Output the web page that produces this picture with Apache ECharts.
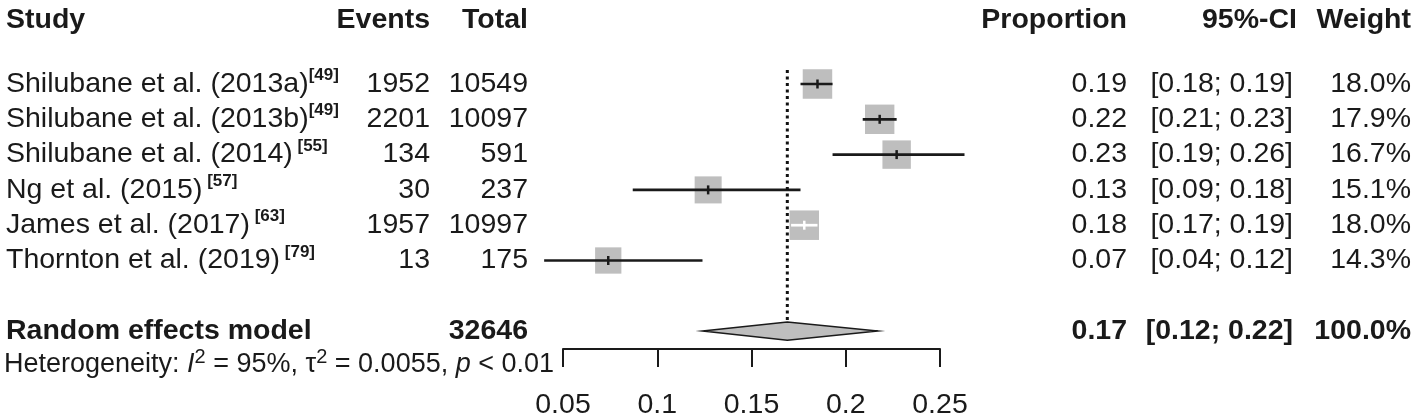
<!DOCTYPE html>
<html>
<head>
<meta charset="utf-8">
<style>
  html, body { margin: 0; padding: 0; background: #fff; }
  #chart { width: 1418px; height: 420px; }
</style>
<script src="https://cdn.jsdelivr.net/npm/echarts@6/dist/echarts.min.js"></script>
</head>
<body>
<div id="chart"></div>
<script>
// data
const studyNames = ['Shilubane et al. (2013a)', 'Shilubane et al. (2013b)', 'Shilubane et al. (2014)',
  'Ng et al. (2015)', 'James et al. (2017)', 'Thornton et al. (2019)'];
const studyRefs = ['[49]', '[49]', ' [55]', ' [57]', ' [63]', ' [79]'];
const events = [1952, 2201, 134, 30, 1957, 13];
const totals = [10549, 10097, 591, 237, 10997, 175];
const proportions = [0.185, 0.218, 0.227, 0.127, 0.178, 0.074];
const ciLower = [0.176, 0.209, 0.193, 0.087, 0.171, 0.040];
const ciUpper = [0.193, 0.227, 0.263, 0.176, 0.185, 0.124];
const propLabels = ['0.19', '0.22', '0.23', '0.13', '0.18', '0.07'];
const ciLabels = ['[0.18; 0.19]', '[0.21; 0.23]', '[0.19; 0.26]', '[0.09; 0.18]', '[0.17; 0.19]', '[0.04; 0.12]'];
const weights = [18.0, 17.9, 16.7, 15.1, 18.0, 14.3];

const pooledEst = 0.169;
const pooledLower = 0.124;
const pooledUpper = 0.217;
const pooledTotal = 32646;
const pooledLabels = ['0.17', '[0.12; 0.22]', '100.0%'];

const headers = ['Study', 'Events', 'Total', 'Proportion', '95%-CI', 'Weight'];
const xTicks = [0.05, 0.1, 0.15, 0.2, 0.25];
const tickLabels = ['0.05', '0.1', '0.15', '0.2', '0.25'];

// layout
const FONT = '"Liberation Sans", Arial, sans-serif';
const FS = 28.5;
const INK = '#1a1a1a';
const ROW0 = 84, STEP = 35.3;
const AXIS_Y = 349;
const HEADER_ROW = -1.82, SUMMARY_ROW = 7, HET_ROW = 7.95;
const Y_MIN = -ROW0 / STEP;
const SQUARE = 29.5;
const DIAMOND_H = 0.26;

const col = { study: 6, events: 430, total: 528, prop: 1127, ci: 1293, ciHead: 1297, weight: 1411 };

const chart = echarts.init(document.getElementById('chart'));

function text(x, y, str, align, extra) {
  return {
    type: 'text',
    x: x, y: y,
    style: Object.assign({
      text: str,
      fill: INK,
      fontFamily: FONT,
      fontSize: FS,
      align: align,
      verticalAlign: 'middle',
      lineHeight: 34
    }, extra || {})
  };
}

function renderHeader(params, api) {
  const y = api.coord([0, HEADER_ROW])[1];
  const b = { fontWeight: 'bold' };
  return { type: 'group', children: [
    text(col.study, y, headers[0], 'left', b),
    text(col.events, y, headers[1], 'right', b),
    text(col.total, y, headers[2], 'right', b),
    text(col.prop, y, headers[3], 'right', b),
    text(col.ciHead, y, headers[4], 'right', b),
    text(col.weight, y, headers[5], 'right', b)
  ]};
}

function renderRow(params, api) {
  const i = params.dataIndex;
  const y = api.coord([0, api.value(0)])[1];
  return { type: 'group', children: [
    text(col.study, y, studyNames[i] + '{sup|' + studyRefs[i] + '}', 'left', {
      rich: { sup: { fontFamily: FONT, fontSize: 17, fontWeight: 'bold', fill: INK, lineHeight: 25, verticalAlign: 'top' } }
    }),
    text(col.events, y, String(events[i]), 'right'),
    text(col.total, y, String(totals[i]), 'right'),
    text(col.prop, y, propLabels[i], 'right'),
    text(col.ci, y, ciLabels[i], 'right'),
    text(col.weight, y, weights[i].toFixed(1) + '%', 'right')
  ]};
}

function renderSummary(params, api) {
  const y = api.coord([0, SUMMARY_ROW])[1];
  const yh = api.coord([0, HET_ROW])[1];
  const b = { fontWeight: 'bold' };
  return { type: 'group', children: [
    text(col.study, y, 'Random effects model', 'left', b),
    text(col.total, y, String(pooledTotal), 'right', b),
    text(col.prop, y, pooledLabels[0], 'right', b),
    text(col.ci, y, pooledLabels[1], 'right', b),
    text(col.weight, y, pooledLabels[2], 'right', b),
    text(col.study - 2, yh, 'Heterogeneity: {it|I}{sup|2} = 95%, τ{sup|2} = 0.0055, {it|p} < 0.01', 'left', {
      fontSize: 27,
      rich: {
        it: { fontFamily: FONT, fontSize: 27, fontStyle: 'italic', fill: INK },
        sup: { fontFamily: FONT, fontSize: 20, fill: INK, lineHeight: 6, verticalAlign: 'top' }
      }
    })
  ]};
}

function renderStudy(params, api) {
  const i = params.dataIndex;
  const row = api.value(1);
  const c = api.coord([api.value(0), row]);
  const lo = api.coord([ciLower[i], row]);
  const hi = api.coord([ciUpper[i], row]);
  const side = SQUARE * Math.sqrt(weights[i] / Math.max.apply(null, weights));
  const inside = lo[0] >= c[0] - side / 2 && hi[0] <= c[0] + side / 2;
  const ink = inside ? '#fff' : INK;
  return { type: 'group', children: [
    { type: 'rect', shape: { x: c[0] - side / 2, y: c[1] - side / 2, width: side, height: side },
      style: { fill: '#bebebe' } },
    { type: 'line', shape: { x1: lo[0], y1: c[1], x2: hi[0], y2: c[1] },
      style: { stroke: ink, lineWidth: 2.7 } },
    { type: 'line', shape: { x1: c[0], y1: c[1] - 4.5, x2: c[0], y2: c[1] + 4.5 },
      style: { stroke: ink, lineWidth: 2.5 } }
  ]};
}

function renderPooled(params, api) {
  const row = api.value(1);
  const top = api.coord([pooledEst, row - DIAMOND_H]);
  const bot = api.coord([pooledEst, row + DIAMOND_H]);
  const lo = api.coord([pooledLower, row]);
  const hi = api.coord([pooledUpper, row]);
  const lineTop = api.coord([pooledEst, -0.4]);
  return { type: 'group', children: [
    { type: 'line', shape: { x1: lineTop[0], y1: lineTop[1], x2: top[0], y2: top[1] },
      style: { stroke: '#111', lineWidth: 3, lineDash: [3, 3.5] } },
    { type: 'polygon', shape: { points: [lo, top, hi, bot] },
      style: { fill: '#bebebe', stroke: INK, lineWidth: 1.5 } }
  ]};
}

const option = {
  animation: false,
  backgroundColor: '#fff',
  grid: [
    { left: 0, top: 0, width: 1418, height: 420 },
    { left: 563, top: 0, width: 377, height: AXIS_Y }
  ],
  xAxis: [
    { gridIndex: 0, type: 'value', min: 0, max: 1418, show: false },
    {
      gridIndex: 1, type: 'value', min: xTicks[0], max: xTicks[xTicks.length - 1], interval: 0.05,
      axisLine: { show: true, onZero: false, lineStyle: { color: INK, width: 2 } },
      axisTick: { show: true, length: 18, lineStyle: { color: INK, width: 2 } },
      axisLabel: {
        color: INK, fontFamily: FONT, fontSize: FS, margin: 41, lineHeight: 30,
        showMinLabel: true, showMaxLabel: true,
        formatter: function (v) {
          const k = xTicks.findIndex(t => Math.abs(t - v) < 1e-9);
          return k >= 0 ? tickLabels[k] : '';
        }
      },
      splitLine: { show: false }
    }
  ],
  yAxis: [
    { gridIndex: 0, type: 'value', inverse: true, min: Y_MIN, max: Y_MIN + 420 / STEP, show: false },
    { gridIndex: 1, type: 'value', inverse: true, min: Y_MIN, max: Y_MIN + AXIS_Y / STEP, show: false }
  ],
  series: [
    { type: 'custom', xAxisIndex: 0, yAxisIndex: 0, renderItem: renderHeader, data: [[HEADER_ROW]] },
    { type: 'custom', xAxisIndex: 0, yAxisIndex: 0, renderItem: renderRow,
      data: studyNames.map((_, i) => [i]) },
    { type: 'custom', xAxisIndex: 0, yAxisIndex: 0, renderItem: renderSummary, data: [[SUMMARY_ROW]] },
    { type: 'custom', xAxisIndex: 1, yAxisIndex: 1, renderItem: renderStudy, encode: { x: 0, y: 1 },
      data: proportions.map((p, i) => [p, i]) },
    { type: 'custom', xAxisIndex: 1, yAxisIndex: 1, renderItem: renderPooled, encode: { x: 0, y: 1 },
      data: [[pooledEst, SUMMARY_ROW]] }
  ]
};

chart.setOption(option);
</script>
</body>
</html>
